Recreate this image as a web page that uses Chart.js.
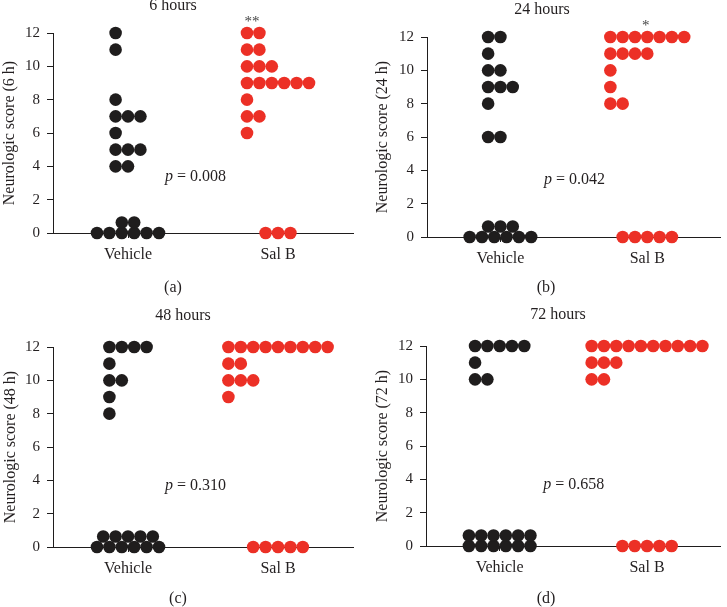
<!DOCTYPE html>
<html><head><meta charset="utf-8">
<script src="https://cdn.jsdelivr.net/npm/chart.js@4"></script>
<style>
html,body{margin:0;padding:0;background:#fff;}
body{width:727px;height:607px;position:relative;overflow:hidden;}
.p{position:absolute;}
canvas{display:block;}
</style></head><body>
<div class="p" style="left:0;top:0;width:363px;height:300px"><canvas id="c0" width="363" height="300"></canvas></div>
<div class="p" style="left:363px;top:0;width:364px;height:300px"><canvas id="c1" width="364" height="300"></canvas></div>
<div class="p" style="left:0;top:300px;width:363px;height:307px"><canvas id="c2" width="363" height="307"></canvas></div>
<div class="p" style="left:363px;top:300px;width:364px;height:307px"><canvas id="c3" width="364" height="307"></canvas></div>
<script>
// ---------- data ----------
const groups = ['Vehicle', 'Sal B'];
const panelTitles = ['6 hours', '24 hours', '48 hours', '72 hours'];
const panelCaptions = ['(a)', '(b)', '(c)', '(d)'];
const yTitles = ['Neurologic score (6 h)', 'Neurologic score (24 h)', 'Neurologic score (48 h)', 'Neurologic score (72 h)'];
const yTicks = [0, 2, 4, 6, 8, 10, 12];
const pValues = ['0.008', '0.042', '0.310', '0.658'];
const significance = ['**', '*', '', ''];

const vehicle6h  = [12, 11, 8, 7, 7, 7, 6, 5, 5, 5, 4, 4, 0, 0, 0, 0, 0, 0, 0, 0];
const salB6h     = [12, 12, 11, 11, 10, 10, 10, 9, 9, 9, 9, 9, 9, 8, 7, 7, 6, 0, 0, 0];
const vehicle24h = [12, 12, 11, 10, 10, 9, 9, 9, 8, 6, 6, 0, 0, 0, 0, 0, 0, 0, 0, 0];
const salB24h    = [12, 12, 12, 12, 12, 12, 12, 11, 11, 11, 11, 10, 9, 8, 8, 0, 0, 0, 0, 0];
const vehicle48h = [12, 12, 12, 12, 11, 10, 10, 9, 8, 0, 0, 0, 0, 0, 0, 0, 0, 0, 0, 0];
const salB48h    = [12, 12, 12, 12, 12, 12, 12, 12, 12, 11, 11, 10, 10, 10, 9, 0, 0, 0, 0, 0];
const vehicle72h = [12, 12, 12, 12, 12, 11, 10, 10, 0, 0, 0, 0, 0, 0, 0, 0, 0, 0, 0, 0];
const salB72h    = [12, 12, 12, 12, 12, 12, 12, 12, 12, 12, 11, 11, 11, 10, 10, 0, 0, 0, 0, 0];

const vehicleSeries = [vehicle6h, vehicle24h, vehicle48h, vehicle72h];
const salBSeries = [salB6h, salB24h, salB48h, salB72h];

// ---------- layout / style ----------
const DARK = '#1f1d1d';
const RED = '#ec3026';
const TEXT = '#231f20';
const FONT = "'Liberation Serif', 'Times New Roman', serif";
const DOT_R = 6.3;
const DOT_DX_PX = 12.4;   // horizontal spacing of dots
const ZERO_ROW_DY_PX = 10.5; // second stacked row at zero
const ZERO_ROW_CAP = 6;

const panels = [
  {w:363, h:300, area:{l:53, t:33, r:353, b:233}, title:[173, 6], cap:[173, 288], pPos:[1.247, 3.36], starPos:[1.827, 12.84], yTitlePad:0.5},
  {w:364, h:300, area:{l:64, t:37, r:360, b:237}, title:[179, 10], cap:[183, 288], pPos:[1.297, 3.42], starPos:[1.99, 12.84], yTitlePad:10},
  {w:363, h:307, area:{l:53, t:47, r:353, b:247}, title:[183, 16], cap:[178, 299], pPos:[1.247, 3.66], starPos:[1.5, 13], yTitlePad:1.5},
  {w:364, h:307, area:{l:63, t:46, r:360, b:246}, title:[195, 15], cap:[183, 299], pPos:[1.295, 3.66], starPos:[1.5, 13], yTitlePad:10}
];

Chart.defaults.font.family = FONT;
Chart.defaults.color = TEXT;

function layoutDots(scores, center, dxU, dyU) {
  const counts = {};
  scores.forEach(s => { counts[s] = (counts[s] || 0) + 1; });
  const nonzero = Object.keys(counts).map(Number).filter(v => v > 0);
  const maxN = nonzero.length ? Math.max(...nonzero.map(v => counts[v])) : 1;
  const left = center - (maxN - 1) / 2 * dxU;
  const seen = {};
  const pts = [];
  scores.forEach(s => {
    seen[s] = (seen[s] === undefined) ? 0 : seen[s] + 1;
    const k = seen[s];
    if (s > 0) {
      pts.push({x: left + k * dxU, y: s});
    } else {
      const n = counts[0];
      const bottomN = Math.min(n, ZERO_ROW_CAP);
      if (k < bottomN) {
        pts.push({x: center + (k - (bottomN - 1) / 2) * dxU, y: 0});
      } else {
        const topN = n - bottomN, j = k - bottomN;
        pts.push({x: center + (j - (topN - 1) / 2) * dxU, y: dyU});
      }
    }
  });
  return pts;
}

const notesPlugin = {
  id: 'notes',
  afterDraw(chart, args, opts) {
    const ctx = chart.ctx;
    const P = opts.panel;
    const i = opts.index;
    const xs = chart.scales.x, ys = chart.scales.y;
    ctx.save();
    ctx.fillStyle = TEXT;
    ctx.textBaseline = 'middle';
    ctx.textAlign = 'center';
    ctx.font = '16px ' + FONT;
    ctx.fillText(panelTitles[i], P.title[0], P.title[1]);
    ctx.fillText(panelCaptions[i], P.cap[0], P.cap[1]);
    // p value
    const px = xs.getPixelForValue(P.pPos[0]);
    const py = ys.getPixelForValue(P.pPos[1]);
    ctx.textAlign = 'left';
    ctx.font = 'italic 16px ' + FONT;
    ctx.fillText('p', px, py);
    const w = ctx.measureText('p').width;
    ctx.font = '16px ' + FONT;
    ctx.fillText(' = ' + pValues[i], px + w, py);
    // significance
    if (significance[i]) {
      ctx.textAlign = 'center';
      ctx.fillStyle = '#444';
      ctx.font = '15px ' + FONT;
      ctx.fillText(significance[i], xs.getPixelForValue(P.starPos[0]), ys.getPixelForValue(P.starPos[1]) + 3);
    }
    ctx.restore();
  }
};

panels.forEach((P, i) => {
  const pxPerUx = (P.area.r - P.area.l) / 2;
  const pxPerUy = (P.area.b - P.area.t) / 12;
  const dxU = DOT_DX_PX / pxPerUx;
  const dyU = ZERO_ROW_DY_PX / pxPerUy;
  const gridOpt = {display: true, drawOnChartArea: false, drawTicks: true, tickLength: 6, tickWidth: 1, color: DARK};
  const borderOpt = {display: true, color: DARK, width: 1};
  new Chart(document.getElementById('c' + i), {
    type: 'scatter',
    data: {
      datasets: [
        {data: layoutDots(vehicleSeries[i], 1, dxU, dyU), backgroundColor: DARK, borderColor: DARK, borderWidth: 0, pointRadius: DOT_R, clip: false},
        {data: layoutDots(salBSeries[i], 2, dxU, dyU), backgroundColor: RED, borderColor: RED, borderWidth: 0, pointRadius: DOT_R, clip: false}
      ]
    },
    options: {
      responsive: false,
      animation: false,
      events: [],
      layout: {padding: {top: P.area.t, right: P.w - P.area.r, left: 0, bottom: 0}},
      plugins: {
        legend: {display: false},
        tooltip: {enabled: false},
        notes: {panel: P, index: i}
      },
      scales: {
        x: {
          type: 'linear', min: 0.5, max: 2.5,
          afterFit: s => { s.height = P.h - P.area.b; },
          afterBuildTicks: s => { s.ticks = groups.map((g, k) => ({value: k + 1})); },
          ticks: {callback: v => groups[v - 1], font: {size: 16}, color: TEXT, padding: 7, maxRotation: 0, autoSkip: false},
          grid: Object.assign({}, gridOpt, {tickLength: 5}),
          border: borderOpt
        },
        y: {
          min: 0, max: 12,
          afterFit: s => { s.width = P.area.l; },
          afterBuildTicks: s => { s.ticks = yTicks.map(v => ({value: v})); },
          ticks: {font: {size: 15}, color: TEXT, padding: 7},
          title: {display: true, text: yTitles[i], font: {size: 16}, color: TEXT, padding: {top: P.yTitlePad, bottom: 0}},
          grid: gridOpt,
          border: borderOpt
        }
      }
    },
    plugins: [notesPlugin]
  });
});
</script>
</body></html>
